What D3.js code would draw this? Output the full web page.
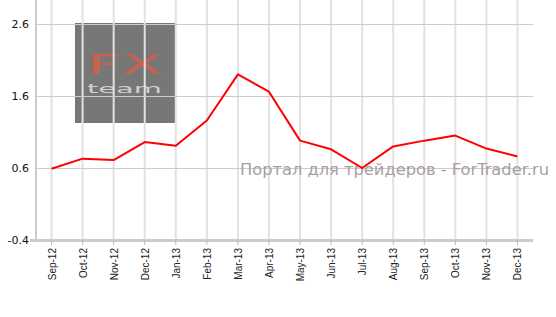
<!DOCTYPE html>
<html>
<head>
<meta charset="utf-8">
<script src="https://cdn.jsdelivr.net/npm/d3@7"></script>
<style>
  body { margin: 0; background: #fff; }
  svg { display: block; }
</style>
</head>
<body>
<svg id="chart" width="556" height="317"></svg>
<script>
var months = ["Sep-12","Oct-12","Nov-12","Dec-12","Jan-13","Feb-13","Mar-13","Apr-13",
              "May-13","Jun-13","Jul-13","Aug-13","Sep-13","Oct-13","Nov-13","Dec-13"];
var values = [0.59, 0.73, 0.71, 0.96, 0.91, 1.26, 1.90, 1.66,
              0.98, 0.86, 0.60, 0.90, 0.98, 1.05, 0.87, 0.76];
var yTicks = [-0.4, 0.6, 1.6, 2.6];

var svg = d3.select('#chart');
var plotLeft = 36, plotRight = 533, plotTop = 24, plotBottom = 240;

var x = d3.scalePoint().domain(months).range([plotLeft, plotRight]).padding(0.5);
var y = d3.scaleLinear().domain([-0.4, 2.6]).range([plotBottom, plotTop]);

// watermark logo
var logo = svg.append('g');
logo.append('rect')
  .attr('x', 75).attr('y', 23).attr('width', 100).attr('height', 100)
  .style('fill', '#777777');
logo.append('text')
  .attr('x', 87).attr('y', 74)
  .attr('textLength', 75).attr('lengthAdjust', 'spacingAndGlyphs')
  .style('font-family', 'DejaVu Sans').style('font-size', '27px')
  .style('fill', '#c9614d')
  .text('FX');
logo.append('text')
  .attr('x', 87).attr('y', 93)
  .attr('textLength', 75).attr('lengthAdjust', 'spacingAndGlyphs')
  .style('font-family', 'DejaVu Sans').style('font-size', '12px')
  .style('fill', '#cfcfcf')
  .text('team');

// vertical grid
svg.append('g').selectAll('line')
  .data(months).enter().append('line')
  .attr('x1', d => x(d)).attr('x2', d => x(d))
  .attr('y1', 0).attr('y2', plotBottom)
  .style('stroke', '#e2e2e2').style('stroke-width', 2);

// horizontal grid
svg.append('g').selectAll('line')
  .data(yTicks).enter().append('line')
  .attr('x1', plotLeft).attr('x2', plotRight)
  .attr('y1', d => Math.round(y(d)) + 0.5).attr('y2', d => Math.round(y(d)) + 0.5)
  .style('stroke', '#cccccc');

// axes lines
svg.append('line')
  .attr('x1', plotLeft).attr('x2', plotLeft).attr('y1', 0).attr('y2', plotBottom + 1)
  .style('stroke', '#cccccc').style('stroke-width', 2);
svg.append('line')
  .attr('x1', plotLeft - 6).attr('x2', plotRight).attr('y1', plotBottom + 0.5).attr('y2', plotBottom + 0.5)
  .style('stroke', '#cccccc').style('stroke-width', 3);

// x ticks
svg.append('g').selectAll('line')
  .data(months).enter().append('line')
  .attr('x1', d => x(d)).attr('x2', d => x(d))
  .attr('y1', plotBottom).attr('y2', plotBottom + 5)
  .style('stroke', '#bbbbbb').style('stroke-width', 1);

// y labels
svg.append('g').selectAll('text')
  .data(yTicks).enter().append('text')
  .attr('x', 29).attr('y', d => y(d) + 4)
  .attr('text-anchor', 'end')
  .style('font-family', 'DejaVu Sans').style('font-size', '11px')
  .style('fill', '#111')
  .text(d => d.toFixed(1));

// x labels
svg.append('g').selectAll('text')
  .data(months).enter().append('text')
  .attr('transform', d => 'translate(' + (x(d) + 4) + ',' + (plotBottom + 8) + ') rotate(-90)')
  .attr('text-anchor', 'end')
  .style('font-family', 'Liberation Sans').style('font-size', '10px')
  .style('fill', '#222')
  .text(d => d);

// site watermark text
svg.append('text')
  .attr('x', 240).attr('y', 175)
  .attr('textLength', 309).attr('lengthAdjust', 'spacingAndGlyphs')
  .style('font-family', 'DejaVu Sans').style('font-size', '16px')
  .style('fill', '#a89f9f')
  .text('Портал для трейдеров - ForTrader.ru');

// line
var line = d3.line()
  .x((d, i) => x(months[i]))
  .y(d => y(d));

svg.append('path')
  .datum(values)
  .attr('d', line)
  .style('fill', 'none')
  .style('stroke', '#ff0000')
  .style('stroke-width', 2)
  .style('stroke-linejoin', 'round');
</script>
</body>
</html>
